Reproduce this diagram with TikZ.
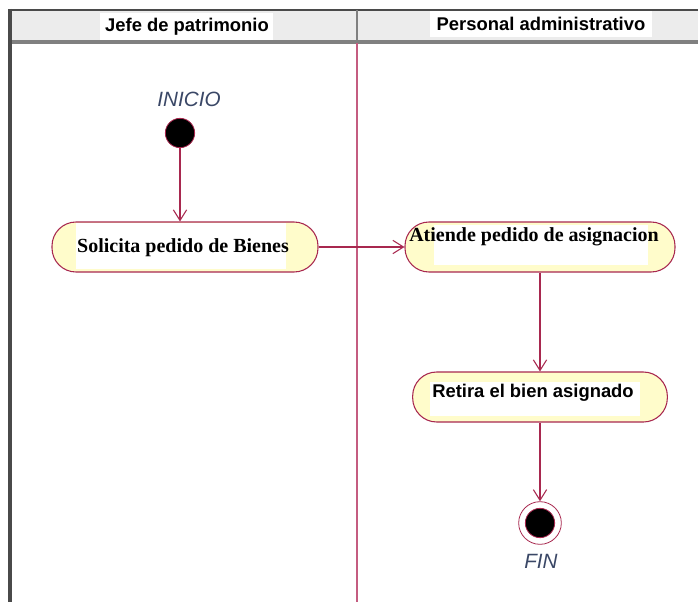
\documentclass[tikz,border=0pt]{standalone}
\usepackage{fontspec}
\setmainfont{Liberation Serif}
\setsansfont{Liberation Sans}
\definecolor{borde}{HTML}{A8284F}
\definecolor{carril}{HTML}{C45C80}
\definecolor{crema}{HTML}{FFFCCB}
\definecolor{cabecera}{HTML}{ECECEC}
\definecolor{marco}{HTML}{4A4A4A}
\definecolor{etiq}{HTML}{3A4766}
\usetikzlibrary{arrows.meta, positioning}

\begin{document}
\begin{tikzpicture}[x=0.75pt, y=-0.75pt,
  accion/.style={draw=borde, fill=crema, line width=0.8pt, rounded corners=18pt,
    minimum height=37.5pt, inner sep=0pt},
  blanco/.style={fill=white, inner sep=0pt},
  textoacc/.style={font=\bfseries\fontsize{15}{17}\selectfont, inner sep=0pt},
  textosans/.style={font=\sffamily\bfseries\fontsize{13.8}{16}\selectfont, inner sep=0pt},
  flujo/.style={draw=borde, line width=0.8pt, -{Straight Barb[length=8pt, width=10pt]}},
  estado/.style={font=\sffamily\itshape\fontsize{15.5}{18}\selectfont, text=etiq}]
  \useasboundingbox (0,0) rectangle (698,602);

  % carriles
  \fill[cabecera] (10,11) rectangle (698,41);
  \fill[white] (100,13) rectangle (273,40);
  \fill[white] (430,11) rectangle (652,37);
  \node[textosans] (jefe) at (187,27) {Jefe de patrimonio};
  \node[textosans] (personal) at (541,24) {Personal administrativo};
  \draw[marco, line width=1.5pt] (10,10) -- (698,10);
  \draw[gray, line width=2.5pt] (10,42) -- (698,42);
  \draw[gray, line width=1pt] (357,10) -- (357,41);
  \draw[carril, line width=1.2pt] (357,43) -- (357,602);
  \draw[marco, line width=2.5pt] (10,9) -- (10,602);

  % inicio
  \node[estado] (lblinicio) at (189,99) {INICIO};
  \node[circle, fill=black, draw=borde, line width=0.6pt, minimum size=22pt, inner sep=0pt]
    (inicio) at (180,133) {};

  % acciones
  \node[accion, minimum width=199.5pt] (solicita) at (185,247) {};
  \node[blanco, minimum width=158pt, minimum height=34.5pt] at (181,246) {};
  \node[textoacc] at (183,248) {Solicita pedido de Bienes};

  \node[accion, minimum width=202.5pt] (atiende) at (540,247) {};
  \node[blanco, minimum width=160pt, minimum height=30pt] at (541,245) {};
  \node[textoacc] at (534,237) {Atiende pedido de asignacion};

  \node[accion, minimum width=191pt] (retira) at (540,397) {};
  \node[blanco, minimum width=157pt, minimum height=26pt] at (535,399) {};
  \node[textosans] at (533,393) {Retira el bien asignado};

  % fin
  \node[circle, draw=borde, fill=white, line width=0.6pt, minimum size=32pt, inner sep=0pt]
    (fin) at (540,523) {};
  \node[circle, fill=black, draw=borde, line width=0.6pt, minimum size=22pt, inner sep=0pt] at (fin) {};
  \node[estado] (lblfin) at (541,561) {FIN};

  % flujos
  \draw[flujo] (inicio) -- (inicio |- solicita.north);
  \draw[flujo] (solicita) -- (atiende);
  \draw[flujo] (atiende) -- (retira);
  \draw[flujo] (retira) -- (fin);
\end{tikzpicture}
\end{document}
